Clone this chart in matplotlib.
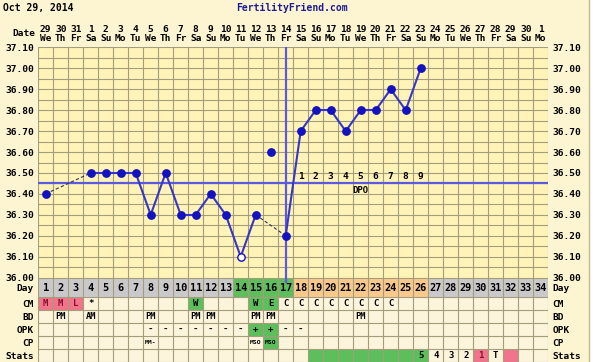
import matplotlib
matplotlib.use("Agg")
import matplotlib.pyplot as plt
from matplotlib.patches import Rectangle
import numpy as np

# ---- data ----
chart_date = "Oct 29, 2014"
site_name = "FertilityFriend.com"

date_nums = ["29", "30", "31", "1", "2", "3", "4", "5", "6", "7", "8", "9", "10",
             "11", "12", "13", "14", "15", "16", "17", "18", "19", "20", "21",
             "22", "23", "24", "25", "26", "27", "28", "29", "30", "1"]
week_days = ["We", "Th", "Fr", "Sa", "Su", "Mo", "Tu"] * 4 + ["We", "Th", "Fr", "Sa", "Su", "Mo"]

# cycle day -> temperature (None = not recorded)
temps = [36.40, None, None, 36.50, 36.50, 36.50, 36.50, 36.30, 36.50, 36.30,
         36.30, 36.40, 36.30, 36.10, 36.30, 36.60, 36.20, 36.70, 36.80, 36.80,
         36.70, 36.80, 36.80, 36.90, 36.80, 37.00]
discarded_days = [16]
open_days = [14]
ovulation_day = 17
coverline = 36.45
dpo_labels = ["1", "2", "3", "4", "5", "6", "7", "8", "9"]

n_days = 34
green_days = [14, 15, 16, 17]
orange_days = [18, 19, 20, 21, 22, 23, 24, 25, 26]

cm = {1: "M", 2: "M", 3: "L", 4: "*", 11: "W", 15: "W", 16: "E", 17: "C", 18: "C",
      19: "C", 20: "C", 21: "C", 22: "C", 23: "C", 24: "C"}
cm_pink = [1, 2, 3]
cm_green = [11, 15, 16]
bd = {2: "PM", 4: "AM", 8: "PM", 11: "PM", 12: "PM", 15: "PM", 16: "PM", 22: "PM"}
opk = {8: "-", 9: "-", 10: "-", 11: "-", 12: "-", 13: "-", 14: "-", 15: "+", 16: "+",
       17: "-", 18: "-"}
opk_green = [15, 16]
cp = {8: "MM-", 15: "MSO", 16: "MSO"}
cp_green = [16]
stats = {26: "5", 27: "4", 28: "3", 29: "2", 30: "1", 31: "T"}
stats_green = [19, 20, 21, 22, 23, 24, 25, 26]
stats_pink = [30, 32]

row_names = ["Day", "CM", "BD", "OPK", "CP", "Stats"]

# ---- style ----
W, H = 600, 362
fig_bg = "#fdf5d2"
plot_bg = "#fff3b8"
cell_bg = "#fcf4db"
grid_c = "#a39d7c"
blue_line = "#3636c8"
blue_dot = "#1212c0"
ref_line = "#5a5ade"
green = "#5cbf5c"
orange = "#f9c98c"
gray = "#c9c9cb"
pink = "#f0748a"
font = dict(family="DejaVu Sans Mono", weight="bold")

fig = plt.figure(figsize=(W / 100, H / 100), dpi=100)
fig.patch.set_facecolor(fig_bg)


def px(x, y):
    return x / W, 1 - y / H


left, right = 38.2, 548.2
top, bottom = 47.4, 277.6

# temperature chart
ax = fig.add_axes([left / W, 1 - bottom / H, (right - left) / W, (bottom - top) / H])
ax.set_facecolor(plot_bg)
ax.set_xlim(0.5, n_days + 0.5)
ax.set_ylim(36.0, 37.1)
for s in ax.spines.values():
    s.set_visible(False)
for y in np.arange(36.0, 37.1001, 0.05):
    ax.axhline(y, color=grid_c, lw=0.8, zorder=1)
for x in np.arange(0.5, n_days + 0.51, 1):
    ax.axvline(x, color=grid_c, lw=0.8, zorder=1)

yt = np.arange(36.0, 37.1001, 0.1)
ax.set_yticks(yt)
ax.set_yticklabels(["%.2f" % v for v in yt])
ax.tick_params(axis="y", length=0, pad=3, labelleft=True, labelright=True, labelsize=6.8)
ax.set_xticks(range(1, n_days + 1))
ax.set_xticklabels([a + "\n" + b for a, b in zip(date_nums, week_days)])
ax.tick_params(axis="x", length=0, pad=3, labeltop=True, labelbottom=False, labelsize=6.8)
for t in ax.yaxis.get_major_ticks():
    for lab in (t.label1, t.label2):
        lab.set_fontfamily(font["family"])
        lab.set_fontweight("bold")
        lab.set_fontsize(6.8)
for t in ax.xaxis.get_major_ticks():
    t.label2.set_fontfamily(font["family"])
    t.label2.set_fontweight("bold")
    t.label2.set_linespacing(1.05)

# reference lines
ax.axhline(coverline, color=ref_line, lw=1.6, zorder=2)
ax.axvline(ovulation_day, color=ref_line, lw=1.6, zorder=2)

# temperature line segments
valid = [(d, t) for d, t in enumerate(temps, start=1) if t is not None and d not in discarded_days]
for (d0, t0), (d1, t1) in zip(valid[:-1], valid[1:]):
    if d1 - d0 == 1:
        ax.plot([d0, d1], [t0, t1], color=blue_line, lw=1.5, zorder=3)
    else:
        ax.plot([d0, d1], [t0, t1], color="#34345a", lw=0.8, ls=(0, (3, 2)), zorder=3)
for d, t in enumerate(temps, start=1):
    if t is None:
        continue
    if d in open_days:
        ax.plot(d, t, "o", ms=5.3, mfc="white", mec=blue_dot, mew=1.0, zorder=4)
    else:
        ax.plot(d, t, "o", ms=5.3, color=blue_dot, zorder=4)

for i, lab in enumerate(dpo_labels):
    ax.text(ovulation_day + 1 + i, coverline + 0.013, lab, ha="center", va="bottom",
            fontsize=6.8, zorder=5, **font)
ax.text(ovulation_day + 1 + (len(dpo_labels) - 1) / 2, coverline - 0.012, "DPO",
        ha="center", va="top", fontsize=6.5, zorder=5, **font)

# table below
row_edges = [278, 297, 310, 323, 336, 349, 362]
tax = fig.add_axes([left / W, 0, (right - left) / W, (H - row_edges[0]) / H])
tax.set_xlim(0.5, n_days + 0.5)
tax.set_ylim(row_edges[-1], row_edges[0])
tax.set_facecolor(cell_bg)
for s in tax.spines.values():
    s.set_visible(False)
centers = [(a + b) / 2 for a, b in zip(row_edges[:-1], row_edges[1:])]
tax.set_yticks(centers)
tax.set_yticklabels(row_names)
tax.set_xticks([])
tax.tick_params(axis="y", length=0, pad=3, labelleft=True, labelright=True, labelsize=6.8)
for t in tax.yaxis.get_major_ticks():
    for lab in (t.label1, t.label2):
        lab.set_fontfamily(font["family"])
        lab.set_fontweight("bold")
        lab.set_fontsize(6.8)


def cell(day, row, color):
    tax.add_patch(Rectangle((day - 0.5, row_edges[row]), 1, row_edges[row + 1] - row_edges[row],
                            color=color, zorder=1, lw=0))


for d in range(1, n_days + 1):
    c = green if d in green_days else orange if d in orange_days else gray
    cell(d, 0, c)
    tax.text(d, centers[0] + 0.5, str(d), ha="center", va="center", fontsize=7.4, zorder=3, **font)

table_rows = [(cm, {**{d: pink for d in cm_pink}, **{d: green for d in cm_green}}, 6.5),
              (bd, {}, 6.3),
              (opk, {d: green for d in opk_green}, 6.5),
              (cp, {d: green for d in cp_green}, 4.6),
              (stats, {**{d: green for d in stats_green}, **{d: pink for d in stats_pink}}, 6.5)]
for r, (vals, colors, fs) in enumerate(table_rows, start=1):
    for d, c in colors.items():
        cell(d, r, c)
    for d, v in vals.items():
        tcol = "#8a1030" if (r == 1 and d in cm_pink) or (r == 5 and d in stats_pink) else "black"
        tax.text(d, centers[r] + 0.3, v, ha="center", va="center", fontsize=fs, color=tcol,
                 zorder=3, **font)

for y in row_edges:
    tax.axhline(y, color=grid_c, lw=0.8, zorder=2)
for x in np.arange(0.5, n_days + 0.51, 1):
    tax.axvline(x, color=grid_c, lw=0.8, zorder=2)
tax.plot([ovulation_day, ovulation_day], [row_edges[0], row_edges[0] + 4], color=ref_line, lw=1.6, zorder=4)

# header texts
fig.text(*px(3, 8), chart_date, ha="left", va="center", fontsize=7, **font)
fig.text(*px(292, 8), site_name, ha="center", va="center", fontsize=7, color="#1c1c96", **font)
fig.text(*px(35, 33), "Date", ha="right", va="center", fontsize=6.8, **font)

# white strip beyond the chart frame on the right
sax = fig.add_axes([589 / W, 0, 11 / W, 1])
sax.set_facecolor("white")
sax.set_xticks([])
sax.set_yticks([])
for k, s in sax.spines.items():
    s.set_visible(k == "left")
sax.spines["left"].set_color("#c8b98c")
sax.spines["left"].set_linewidth(1)

fig.savefig("out.png", dpi=100, facecolor=fig.get_facecolor())
